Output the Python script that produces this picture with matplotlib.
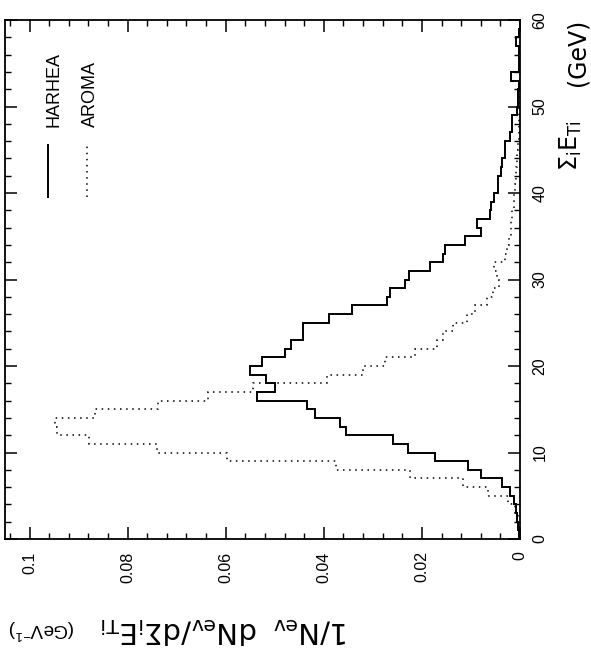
import matplotlib
matplotlib.use('Agg')
import matplotlib.pyplot as plt
import numpy as np
from matplotlib.ticker import MultipleLocator, FixedLocator

plt.rcParams['font.family'] = ['Liberation Sans', 'DejaVu Sans']
plt.rcParams['mathtext.default'] = 'regular'

# ---- data (1 GeV bins, 0..60 GeV) ----
bin_edges = list(range(0, 61))
harhea = [0.0002, 0.0004, 0.0006, 0.0008, 0.0012, 0.0021, 0.0037, 0.0080, 0.0107, 0.0173,
          0.0228, 0.0259, 0.0354, 0.0367, 0.0417, 0.0435, 0.0537, 0.0500, 0.0517, 0.0551,
          0.0527, 0.0480, 0.0466, 0.0443, 0.0443, 0.0390, 0.0343, 0.0272, 0.0265, 0.0235,
          0.0226, 0.0184, 0.0156, 0.0153, 0.0112, 0.0080, 0.0088, 0.0061, 0.0060, 0.0054,
          0.0044, 0.0044, 0.0039, 0.0037, 0.0031, 0.0030, 0.0020, 0.0017, 0.0016, 0.0007,
          0.0005, 0.0004, 0.0003, 0.0019, 0.0003, 0.0002, 0.0002, 0.0008, 0.0002, 0.0001]
aroma = [0.0001, 0.0003, 0.0005, 0.0010, 0.0024, 0.0065, 0.0116, 0.0224, 0.0376, 0.0597,
         0.0741, 0.0878, 0.0945, 0.0948, 0.0867, 0.0739, 0.0637, 0.0545, 0.0394, 0.0320,
         0.0276, 0.0214, 0.0170, 0.0157, 0.0137, 0.0108, 0.0092, 0.0067, 0.0055, 0.0042,
         0.0046, 0.0053, 0.0030, 0.0026, 0.0022, 0.0019, 0.0018, 0.0017, 0.0013, 0.0012,
         0.0011, 0.0008, 0.0008, 0.0007, 0.0006, 0.0005, 0.0003, 0.0003, 0.0002, 0.0002,
         0.0001, 0.0001, 0.0001, 0.0, 0.0, 0.0, 0.0, 0.0, 0.0, 0.0]
series_names = ['HARHEA', 'AROMA']
value_ticks = [0, 0.02, 0.04, 0.06, 0.08, 0.1]
value_tick_labels = ['0', '0.02', '0.04', '0.06', '0.08', '0.1']
energy_ticks = [0, 10, 20, 30, 40, 50, 60]
energy_tick_labels = ['0', '10', '20', '30', '40', '50', '60']

W, H = 591, 655
fig = plt.figure(figsize=(W / 100, H / 100), dpi=100)
ax = fig.add_axes([5 / W, 1 - 539 / H, 515 / W, 519 / H])

ax.stairs(harhea, bin_edges, orientation='horizontal', baseline=None,
          color='black', lw=1.4)
ax.stairs(aroma, bin_edges, orientation='horizontal', baseline=None,
          color='black', lw=1.1, linestyle=(0, (1, 3)))

ax.set_xlim(0.105, 0)
ax.set_ylim(0, 60)

for s in ax.spines.values():
    s.set_linewidth(1.3)

ax.xaxis.set_major_locator(FixedLocator(value_ticks))
ax.xaxis.set_minor_locator(MultipleLocator(0.004))
ax.set_xticklabels(value_tick_labels)
ax.yaxis.set_major_locator(FixedLocator(energy_ticks))
ax.yaxis.set_minor_locator(MultipleLocator(2))
ax.set_yticklabels(energy_tick_labels)

ax.tick_params(axis='both', which='both', direction='in', top=True, bottom=True,
               left=True, right=True, labelleft=False, labelright=True)
ax.tick_params(axis='both', which='major', length=8.5, width=1.1)
ax.tick_params(axis='both', which='minor', length=4.3, width=1.0)
ax.tick_params(axis='x', which='major', pad=9, labelsize=11.5)
ax.tick_params(axis='y', which='major', pad=9, labelsize=11.5)

for lab in ax.get_xticklabels():
    lab.set_rotation(90)
    lab.set_va('top')
    lab.set_ha('center')
for lab in ax.get_yticklabels():
    lab.set_rotation(90)
    lab.set_va('center')
    lab.set_ha('left')

# legend (rotated, drawn by hand)
def ax_x(px):
    return (px - 5) / 515
def ax_y(py):
    return (539 - py) / 519

ax.plot([ax_x(48), ax_x(48)], [ax_y(197), ax_y(145)], transform=ax.transAxes,
        color='black', lw=1.4)
ax.plot([ax_x(87), ax_x(87)], [ax_y(197), ax_y(145)], transform=ax.transAxes,
        color='black', lw=1.1, linestyle=(0, (1, 3)))
ax.text(ax_x(53.5), ax_y(127), series_names[0], transform=ax.transAxes, rotation=90,
        ha='center', va='bottom', fontsize=13)
ax.text(ax_x(90), ax_y(127), series_names[1], transform=ax.transAxes, rotation=90,
        ha='center', va='bottom', fontsize=13)

# axis titles
fig.text(571 / W, 1 - 146 / H, r'$\Sigma_i E_{Ti}$', rotation=90, ha='center', va='center',
         fontsize=17, family=['DejaVu Sans'])
fig.text(578 / W, 1 - 52 / H, '(GeV)', rotation=90, ha='center', va='center',
         fontsize=17, family=['DejaVu Sans'])
fig.text(225 / W, 1 - 630 / H, r'$1/N_{ev}\;\; dN_{ev}/d\Sigma_i E_{Ti}$', rotation=180,
         ha='center', va='center', fontsize=21, family=['DejaVu Sans'])
fig.text(42 / W, 1 - 629 / H, r'(GeV$^{-1}$)', rotation=180, ha='center', va='center',
         fontsize=13.5)

fig.savefig('out.png', dpi=100, facecolor='white')
